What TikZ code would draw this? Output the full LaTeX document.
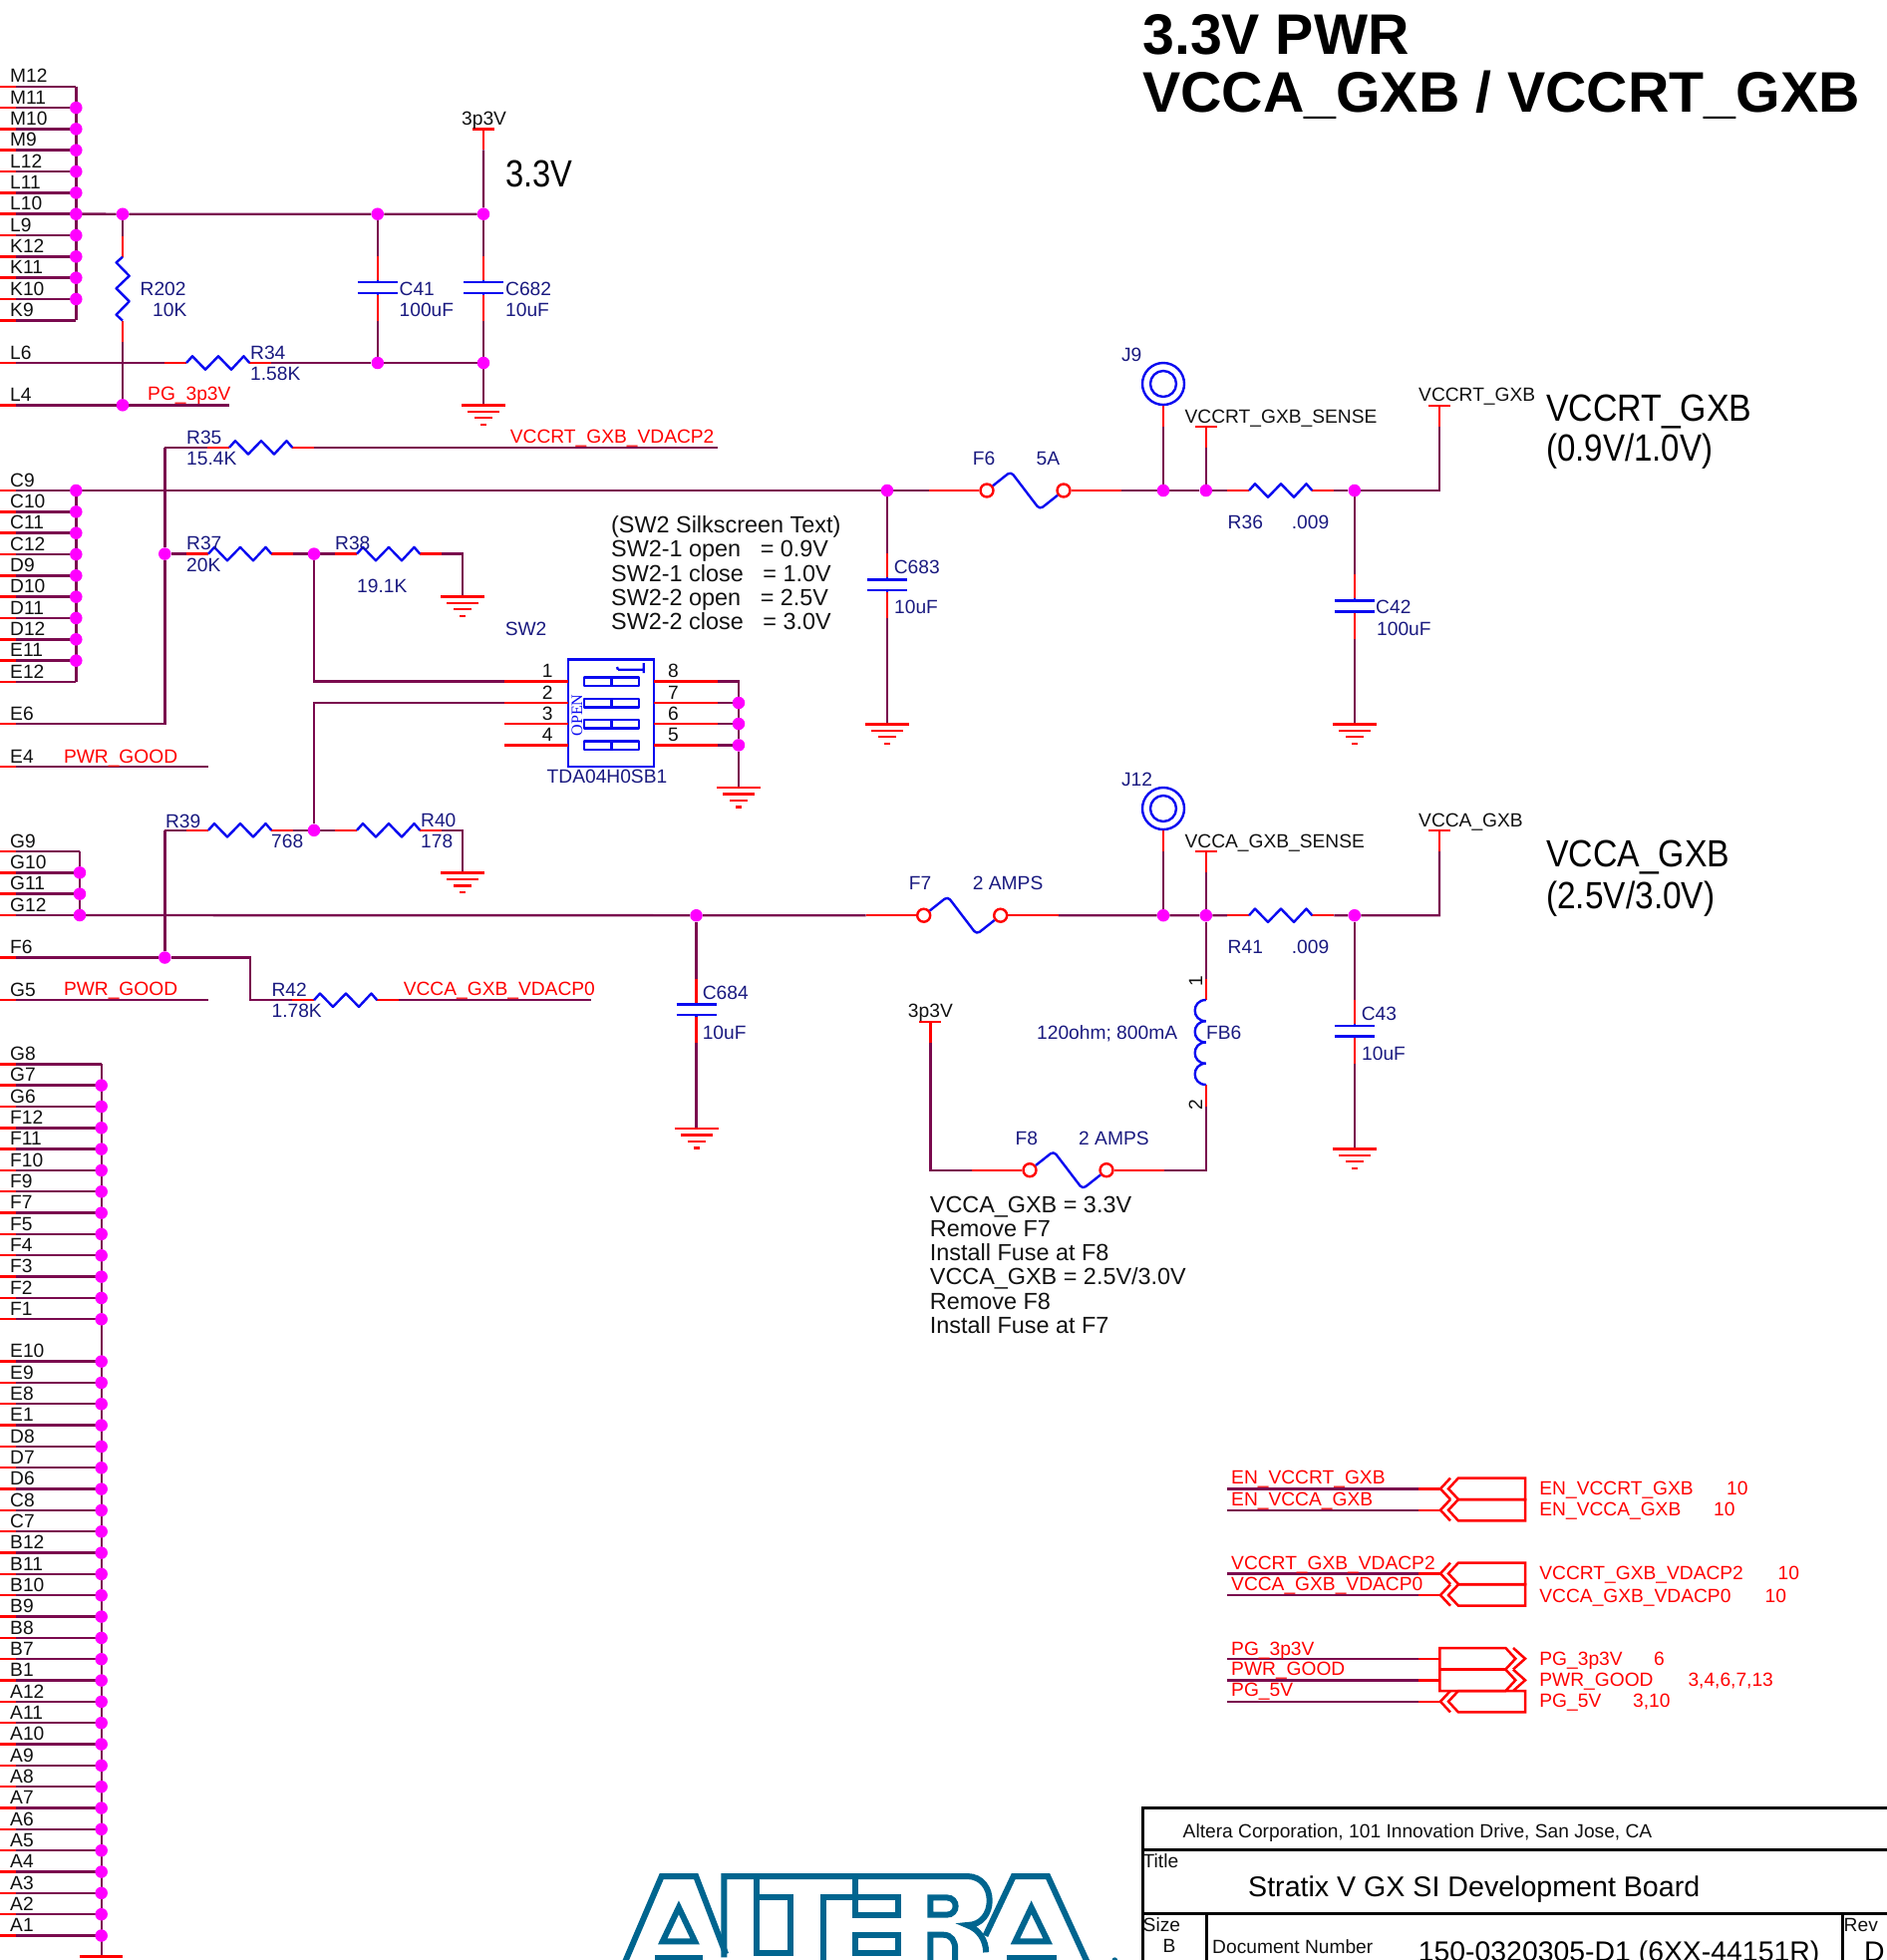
\documentclass[tikz,border=0pt]{standalone}
\usepackage{fontspec}
\setmainfont{Liberation Sans}
\newfontfamily\swfont{Liberation Serif}
\definecolor{wirec}{HTML}{7A0A4E}
\definecolor{redc}{HTML}{FF0000}
\definecolor{bluec}{HTML}{0A0AF0}
\definecolor{navyc}{HTML}{1A1A80}
\definecolor{magc}{HTML}{FF00FF}
\definecolor{inkc}{HTML}{111111}
\definecolor{tealc}{HTML}{00658F}
\pgfdeclarelayer{wires}
\pgfsetlayers{wires,main}
\tikzset{
  wire/.style={draw=wirec,line width=2.4pt},
  stub/.style={draw=redc,line width=2.4pt},
  comp/.style={draw=bluec,line width=2.4pt,line join=round},
  offp/.style={draw=redc,line width=2.5pt,line join=miter},
  dot/.style={circle,fill=magc,inner sep=0pt,minimum size=12.5pt},
  lab/.style={inner sep=0pt,anchor=base west,yshift=-6.9pt,text=navyc,font=\fontsize{19.2}{22}\selectfont},
  labc/.style={lab,anchor=base},
  net/.style={lab,text=inkc},
  netc/.style={net,anchor=base},
  redl/.style={lab,text=redc,yshift=.8pt},
  note/.style={inner sep=0pt,anchor=base west,yshift=-8.3pt,text=inkc,font=\fontsize{23.4}{26}\selectfont},
  bigl/.style={inner sep=0pt,anchor=base west,yshift=-13.6pt,text=black,font=\fontsize{38}{40}\selectfont},
  ttl/.style={inner sep=0pt,anchor=base west,yshift=-20.5pt,text=black,font=\fontsize{57.3}{60}\bfseries\selectfont},
  blk/.style={inner sep=0pt,anchor=base west,yshift=-10.2pt,text=black,font=\fontsize{28.4}{30}\selectfont},
  logo/.style={draw=tealc,line width=6pt,line join=miter},
  frm/.style={draw=black,line width=3pt},
}
\newcounter{tn}
\newcommand{\Tx}[4][lab]{\stepcounter{tn}\node[#1] (t\arabic{tn}) at (#2,#3) {#4};}
\newcommand{\WW}[1]{\begin{pgfonlayer}{wires}\draw[wire] #1;\end{pgfonlayer}}
% horizontal resistor: name, x of zigzag start, y
\newcommand{\RH}[3]{%
  \coordinate (#1-a) at (#2-22,#3);\coordinate (#1-b) at (#2+85.3,#3);
  \draw[stub] (#1-a) -- (#2,#3);\draw[stub] (#2+63.3,#3) -- (#1-b);
  \draw[comp] (#2,#3) -- ++(6,-6.7) -- ++(13,13.4) -- ++(13,-13.4) -- ++(13,13.4) -- ++(12.5,-13.4) -- ++(5.8,6.7);}
% capacitor: name, x, y of upper plate, y of lower plate
\newcommand{\CP}[4]{%
  \coordinate (#1-a) at (#2,#3-26);\coordinate (#1-b) at (#2,#4+28);
  \draw[stub] (#1-a) -- (#2,#3-2);\draw[stub] (#2,#4+2) -- (#1-b);
  \draw[comp] (#2-20,#3) -- (#2+20,#3) (#2-20,#4) -- (#2+20,#4) (#2,#3-2) -- (#2,#3) (#2,#4) -- (#2,#4+2);}
% ground: name, x, y
\newcommand{\GD}[3]{%
  \coordinate (#1) at (#2,#3);
  \draw[stub] (#2-22,#3) -- (#2+22,#3) (#2-16,#3+6.4) -- (#2+16,#3+6.4) (#2-9,#3+12.8) -- (#2+9,#3+12.8) (#2-3,#3+19.4) -- (#2+3,#3+19.4);}
% tee power symbol: name, x, y
\newcommand{\TE}[3]{%
  \coordinate (#1) at (#2,#3);\coordinate (#1-b) at (#2,#3+21);
  \draw[stub] (#2-11,#3) -- (#2+11,#3) (#1) -- (#1-b);}
% fuse: name, x of left circle, y
\newcommand{\FS}[3]{%
  \coordinate (#1-a) at (#2-58,#3);\coordinate (#1-b) at (#2+135,#3);
  \node[circle,draw=redc,line width=2.4pt,inner sep=0pt,minimum size=13pt] (#1-l) at (#2,#3) {};
  \node[circle,draw=redc,line width=2.4pt,inner sep=0pt,minimum size=13pt] (#1-r) at (#2+77,#3) {};
  \draw[stub] (#1-a) -- (#1-l);\draw[stub] (#1-r) -- (#1-b);
  \draw[comp,rounded corners=4pt] (#1-l) -- (#2+24,#3-19) -- (#2+53,#3+19) -- (#1-r);}
% test point: name, x, y
\newcommand{\TP}[3]{%
  \node[circle,draw=bluec,line width=2.4pt,inner sep=0pt,minimum size=42pt] (#1-o) at (#2,#3) {};
  \node[circle,draw=bluec,line width=2.4pt,inner sep=0pt,minimum size=26pt] (#1-i) at (#2,#3) {};
  \coordinate (#1-b) at (#2,#3+42.7);
  \draw[stub] (#1-o) -- (#1-b);}
% one pin at the left edge: name, y, label
\newcommand{\PL}[3]{%
  \coordinate (#1-l) at (0,#2);\coordinate (#1) at (16,#2);
  \draw[stub] (#1-l) -- (#1);\Tx[net]{10}{#2-10.7}{#3}}
% bus of left edge pins: name,x,y0,labels,first dot,last dot,last index
\newcommand{\BusL}[7]{%
  \foreach \lb [count=\i from 0] in {#4}{%
    \pgfmathsetmacro\yy{#3+21.33*\i}
    \coordinate (#1-\i) at (#2,\yy);
    \PL{#1-\i-s}{\yy}{\lb}
    \WW{(#1-\i-s) -- (#1-\i)}
    \ifnum\i<#5\else\ifnum\i>#6\else\node[dot] (#1-\i-d) at (#1-\i) {};\fi\fi
  }%
  \WW{(#1-0) -- (#1-#7)}}
% off-page connectors: name, y
\newcommand{\OffL}[2]{%
  \coordinate (#1-w) at (1231,#2);\coordinate (#1-s) at (1423,#2);
  \draw[stub] (#1-s) -- (1445,#2);\WW{(#1-w) -- (#1-s)}
  \draw[offp] (1530,#2-10.7) -- (1463,#2-10.7) -- (1453,#2) -- (1463,#2+10.7) -- (1530,#2+10.7) -- cycle;
  \draw[offp] (1455,#2-10.7) -- (1445,#2) -- (1455,#2+10.7);}
\newcommand{\OffR}[2]{%
  \coordinate (#1-w) at (1231,#2);\coordinate (#1-s) at (1423,#2);
  \draw[stub] (#1-s) -- (1444.4,#2);\WW{(#1-w) -- (#1-s)}
  \draw[offp] (1444.4,#2-10.7) -- (1510.4,#2-10.7) -- (1520.3,#2) -- (1510.4,#2+10.7) -- (1444.4,#2+10.7) -- cycle;
  \draw[offp] (1518,#2-10.7) -- (1530,#2) -- (1518,#2+10.7);}
\begin{document}
\begin{tikzpicture}[x=1pt,y=-1pt]
\path[use as bounding box] (0,0) rectangle (1893,1966);
\clip (0,0) rectangle (1893,1966);
% ---------- titles
\Tx[ttl]{1146}{33.5}{3.3V PWR}
\Tx[ttl]{1146}{92}{VCCA\_GXB / VCCRT\_GXB}
\Tx[bigl]{507}{174}{\scalebox{.86}[1]{3.3V}}
\Tx[bigl]{1551}{408.7}{\scalebox{.89}[1]{VCCRT\_GXB}}
\Tx[bigl]{1551}{449}{\scalebox{.87}[1]{(0.9V/1.0V)}}
\Tx[bigl]{1551}{856}{\scalebox{.89}[1]{VCCA\_GXB}}
\Tx[bigl]{1551}{897.6}{\scalebox{.88}[1]{(2.5V/3.0V)}}
% ---------- left edge busses
\BusL{busA}{76.3}{86.7}{M12,M11,M10,M9,L12,L11,L10,L9,K12,K11,K10,K9}{1}{10}{11}
\BusL{busC}{76.3}{492}{C9,C10,C11,C12,D9,D10,D11,D12,E11,E12}{0}{8}{9}
\BusL{busG}{80}{854}{G9,G10,G11,G12}{1}{3}{3}
\BusL{busH}{101.7}{1067.3}{G8,G7,G6,F12,F11,F10,F9,F7,F5,F4,F3,F2,F1}{1}{12}{12}
\BusL{busI}{101.7}{1365.6}{E10,E9,E8,E1,D8,D7,D6,C8,C7,B12,B11,B10,B9,B8,B7,B1,A12,A11,A10,A9,A8,A7,A6,A5,A4,A3,A2,A1}{0}{27}{27}
\WW{(busH-12) -- (busI-0)}
\coordinate (gndI) at (101.7,1962.3);
\draw[stub] (79.9,1962.3) -- (123.4,1962.3);
\WW{(busI-27) -- (gndI)}
\PL{pL6}{364}{L6}
\PL{pL4}{406.3}{L4}
\PL{pE6}{726}{E6}
\PL{pE4}{768.8}{E4}
\PL{pF6}{960.5}{F6}
\PL{pG5}{1003.2}{G5}
% ---------- junctions
\node[dot] (j202) at (123,214.7) {};
\node[dot] (jc41t) at (378.8,214.7) {};
\node[dot] (jc682t) at (485,214.7) {};
\node[dot] (jc41b) at (378.8,364) {};
\node[dot] (jc682b) at (485,364) {};
\node[dot] (jL4) at (123,406.3) {};
\node[dot] (j37) at (165.3,555.6) {};
\node[dot] (j3738) at (315,555.6) {};
\node[dot] (j3940) at (315,832.8) {};
\node[dot] (jF6) at (165.3,960.5) {};
\node[dot] (jc683) at (890,492) {};
\node[dot] (jJ9) at (1167,492) {};
\node[dot] (jSen) at (1209.8,492) {};
\node[dot] (jc42) at (1358.8,492) {};
\node[dot] (jc684) at (698.5,918.2) {};
\node[dot] (jJ12) at (1167,918.2) {};
\node[dot] (jSen2) at (1209.8,918.2) {};
\node[dot] (jc43) at (1358.8,918.2) {};
\node[dot] (jsw7) at (741,705) {};
\node[dot] (jsw6) at (741,726) {};
\node[dot] (jsw5) at (741,747.4) {};
% ---------- 3.3V part
\TE{t3p3}{485}{129.3}
\Tx[netc]{485.6}{119}{3p3V}
\coordinate (r202-a) at (123,236.7);
\coordinate (r202-b) at (123,343);
\draw[stub] (r202-a) -- (123,257.7);\draw[stub] (123,321.7) -- (r202-b);
\draw[comp] (123,257.7) -- (116.6,263.3) -- (129.7,276.7) -- (116.6,289.3) -- (129.7,302.3) -- (116.6,315.7) -- (123,321.7);
\RH{r34}{187}{364}
\CP{c41}{378.8}{283}{293.7}
\CP{c682}{485}{283}{293.7}
\GD{g1}{485}{406.3}
\coordinate (eL4) at (230,406.3);
\WW{(busA-6) -- (j202) -- (jc41t) -- (jc682t) -- (t3p3-b)}
\WW{(j202) -- (r202-a) (r202-b) -- (jL4)}
\WW{(pL6) -- (r34-a) (r34-b) -- (jc41b) -- (jc682b) -- (g1)}
\WW{(jc41t) -- (c41-a) (c41-b) -- (jc41b)}
\WW{(jc682t) -- (c682-a) (c682-b) -- (jc682b)}
\WW{(pL4) -- (jL4) -- (eL4)}
\Tx{140.5}{289.7}{R202}
\Tx{153}{310.7}{10K}
\Tx{400.5}{289.7}{C41}
\Tx{400.5}{310.7}{100uF}
\Tx{507}{289.7}{C682}
\Tx{507}{310.7}{10uF}
\Tx{251}{353.3}{R34}
\Tx{251}{374.5}{1.58K}
\Tx[redl]{148}{395.7}{PG\_3p3V}
% ---------- R35 to R38
\RH{r35}{230}{448.9}
\coordinate (c35) at (165.3,448.9);
\coordinate (e35) at (720,448.9);
\WW{(c35) -- (r35-a) (r35-b) -- (e35)}
\WW{(c35) -- (j37) (j37) |- (pE6)}
\Tx{187}{438.6}{R35}
\Tx{187}{459.5}{15.4K}
\Tx[redl]{511.7}{438.6}{VCCRT\_GXB\_VDACP2}
\RH{r37}{209}{555.6}
\RH{r38}{358}{555.6}
\GD{g2}{464}{598.3}
\coordinate (c38) at (464,555.6);
\WW{(j37) -- (r37-a) (r37-b) -- (j3738) -- (r38-a) (r38-b) -- (c38) -- (g2)}
\Tx{187}{544.6}{R37}
\Tx{187}{567}{20K}
\Tx{336}{544.6}{R38}
\Tx{358}{588}{19.1K}
% ---------- DIP switch
\node[draw=bluec,line width=2.4pt,inner sep=0pt,minimum width=86pt,minimum height=107.3pt] (sw2) at (613,715.3) {};
\foreach \yt in {679.3,700.7,722,743.3}{
  \draw[comp] (585.7,\yt) rectangle (641,\yt+8.6) (613.3,\yt) -- (613.3,\yt+8.6);
}
\draw[comp] (645.7,665) -- (645.7,675) (645.7,671.7) -- (620,671.7) (620,671.7) -- (619,669);
\node[inner sep=0pt,rotate=90,text=bluec,font=\fontsize{16}{18}\swfont\selectfont] (swopen) at (579,717.5) {OPEN};
\foreach \yp/\nl/\nr [count=\k] in {683.5/1/8,705/2/7,726/3/6,747.4/4/5}{
  \coordinate (swL\k) at (506,\yp);\coordinate (swR\k) at (720,\yp);
  \coordinate (swLe\k) at (570,\yp);\coordinate (swRe\k) at (656,\yp);
  \draw[stub] (swL\k) -- (swLe\k) (swRe\k) -- (swR\k);
  \Tx[netc]{549.3}{\yp-10.5}{\nl}
  \Tx[netc]{675.5}{\yp-10.5}{\nr}
}
\coordinate (csw1) at (315,705);
\coordinate (csw8) at (741,683.5);
\GD{g3}{741}{790}
\WW{(j3738) |- (swL1)}
\WW{(swL2) -- (csw1) -- (j3940)}
\WW{(swR1) -- (csw8) -- (jsw7) -- (jsw6) -- (jsw5) -- (g3)}
\WW{(swR2) -- (jsw7) (swR3) -- (jsw6) (swR4) -- (jsw5)}
\Tx{506.6}{630.4}{SW2}
\Tx[labc]{609}{779}{TDA04H0SB1}
\Tx[note]{613}{526}{(SW2 Silkscreen Text)}
\Tx[note]{613}{550.5}{SW2-1 open\ \ \ =~0.9V}
\Tx[note]{613}{575}{SW2-1 close\ \ \ =~1.0V}
\Tx[note]{613}{599.5}{SW2-2 open\ \ \ =~2.5V}
\Tx[note]{613}{623.6}{SW2-2 close\ \ \ =~3.0V}
% ---------- PWR_GOOD pins
\coordinate (eE4) at (209,768.8);
\WW{(pE4) -- (eE4)}
\Tx[redl]{63.8}{759}{PWR\_GOOD}
\coordinate (eG5) at (209,1003.2);
\WW{(pG5) -- (eG5)}
\Tx[redl]{63.8}{992.6}{PWR\_GOOD}
% ---------- R39, R40, R42
\RH{r39}{209}{832.8}
\RH{r40}{358}{832.8}
\GD{g4}{464}{875.5}
\coordinate (c39) at (165.3,832.8);
\coordinate (c40) at (464,832.8);
\WW{(c39) -- (r39-a) (r39-b) -- (j3940) -- (r40-a) (r40-b) -- (c40) -- (g4)}
\WW{(c39) -- (jF6)}
\Tx{165.8}{823.3}{R39}
\Tx{272}{844}{768}
\Tx{422}{822.5}{R40}
\Tx{422}{844}{178}
\RH{r42}{315}{1003.2}
\coordinate (c42a) at (251,960.5);
\coordinate (c42b) at (251,1003.2);
\coordinate (e42) at (593,1003.2);
\WW{(pF6) -- (jF6) -- (c42a) -- (c42b) -- (r42-a) (r42-b) -- (e42)}
\Tx{272.4}{992.6}{R42}
\Tx{272.4}{1014}{1.78K}
\Tx[redl]{404.6}{992.6}{VCCA\_GXB\_VDACP0}
% ---------- VCCRT rail
\FS{f6}{990}{492}
\TP{j9}{1167}{385}
\TE{tSen}{1209.8}{427.7}
\TE{tRT}{1444}{406.7}
\RH{r36}{1253}{492}
\CP{c683}{890}{581.3}{592}
\CP{c42}{1358.8}{602.3}{613.3}
\GD{g5}{890}{726.3}
\GD{g6}{1358.8}{726.3}
\coordinate (cRT) at (1444,492);
\WW{(busC-0) -- (jc683) -- (f6-a) (f6-b) -- (jJ9) -- (jSen) -- (r36-a) (r36-b) -- (jc42) -- (cRT) -- (tRT-b)}
\WW{(j9-b) -- (jJ9) (tSen-b) -- (jSen)}
\WW{(jc683) -- (c683-a) (c683-b) -- (g5)}
\WW{(jc42) -- (c42-a) (c42-b) -- (g6)}
\Tx{1124.8}{355.7}{J9}
\Tx[net]{1188.4}{417.7}{VCCRT\_GXB\_SENSE}
\Tx[net]{1423}{395.7}{VCCRT\_GXB}
\Tx{975.7}{459.3}{F6}
\Tx{1039.4}{459.3}{5A}
\Tx{1231.5}{523.7}{R36}
\Tx{1295.6}{523.7}{.009}
\Tx{896.6}{568.7}{C683}
\Tx{897}{608.7}{10uF}
\Tx{1380}{608.3}{C42}
\Tx{1381}{630.7}{100uF}
% ---------- VCCA rail
\FS{f7}{926.7}{918.2}
\TP{j12}{1167}{811}
\TE{tSen2}{1209.8}{854}
\TE{tA}{1444}{832.7}
\RH{r41}{1253}{918.2}
\CP{c684}{698.5}{1007.6}{1018}
\CP{c43}{1358.8}{1028.7}{1039.3}
\GD{g7}{698.5}{1132}
\GD{g8}{1358.8}{1152.3}
\coordinate (cA) at (1444,918.2);
\WW{(busG-3) -- (jc684) -- (f7-a) (f7-b) -- (jJ12) -- (jSen2) -- (r41-a) (r41-b) -- (jc43) -- (cA) -- (tA-b)}
\WW{(j12-b) -- (jJ12) (tSen2-b) -- (jSen2)}
\WW{(jc684) -- (c684-a) (c684-b) -- (g7)}
\WW{(jc43) -- (c43-a) (c43-b) -- (g8)}
\Tx{704.6}{995.5}{C684}
\Tx{704.6}{1035.5}{10uF}
\Tx{1124.8}{781.5}{J12}
\Tx[net]{1188.4}{843.3}{VCCA\_GXB\_SENSE}
\Tx[net]{1423}{822.7}{VCCA\_GXB}
\Tx{911.6}{885.3}{F7}
\Tx{975.7}{885.3}{2 AMPS}
\Tx{1231.5}{949.7}{R41}
\Tx{1295.6}{949.7}{.009}
\Tx{1365.6}{1016.7}{C43}
\Tx{1366}{1056.7}{10uF}
% ---------- ferrite bead and F8
\coordinate (fb-a) at (1209.8,981.7);
\coordinate (fb-b) at (1209.8,1110);
\draw[stub] (fb-a) -- (1209.8,1003);\draw[stub] (1209.8,1088) -- (fb-b);
\foreach \yc in {1003,1024.25,1045.5,1066.75}{
  \draw[comp] (1209.8,\yc) .. controls (1195,\yc) and (1195,\yc+21.25) .. (1209.8,\yc+21.25);
}
\node[inner sep=0pt,rotate=90,text=inkc,font=\fontsize{19.2}{22}\selectfont] (fbn1) at (1199.5,984) {1};
\node[inner sep=0pt,rotate=90,text=inkc,font=\fontsize{19.2}{22}\selectfont] (fbn2) at (1199.5,1108) {2};
\FS{f8}{1033}{1173.7}
\TE{t3p3b}{933.4}{1025}
\coordinate (cF8a) at (933.4,1173.7);
\coordinate (cF8b) at (1209.8,1173.7);
\WW{(jSen2) -- (fb-a) (fb-b) -- (cF8b) -- (f8-b) (f8-a) -- (cF8a) -- (t3p3b-b)}
\Tx{1040}{1035.7}{120ohm; 800mA}
\Tx{1210}{1035.7}{FB6}
\Tx[netc]{933.4}{1014}{3p3V}
\Tx{1018.4}{1142}{F8}
\Tx{1082}{1142}{2 AMPS}
\Tx[note]{932.7}{1208}{VCCA\_GXB = 3.3V}
\Tx[note]{932.7}{1232}{Remove F7}
\Tx[note]{932.7}{1256}{Install Fuse at F8}
\Tx[note]{932.7}{1280}{VCCA\_GXB = 2.5V/3.0V}
\Tx[note]{932.7}{1305}{Remove F8}
\Tx[note]{932.7}{1329}{Install Fuse at F7}
% ---------- off-page connectors
\OffL{o1}{1493.3}
\OffL{o2}{1514.7}
\OffL{o3}{1578.3}
\OffL{o4}{1600}
\OffR{o5}{1663.7}
\OffR{o6}{1685.3}
\OffL{o7}{1706.7}
\Tx[redl]{1235}{1482.7}{EN\_VCCRT\_GXB}
\Tx[redl]{1235}{1504.3}{EN\_VCCA\_GXB}
\Tx[redl]{1235}{1568.3}{VCCRT\_GXB\_VDACP2}
\Tx[redl]{1235}{1589.3}{VCCA\_GXB\_VDACP0}
\Tx[redl]{1235}{1654}{PG\_3p3V}
\Tx[redl]{1235}{1674.7}{PWR\_GOOD}
\Tx[redl]{1235}{1695.7}{PG\_5V}
\Tx[redl]{1544.2}{1493.3}{EN\_VCCRT\_GXB}
\Tx[redl]{1732}{1493.3}{10}
\Tx[redl]{1544.2}{1514.7}{EN\_VCCA\_GXB}
\Tx[redl]{1719}{1514.7}{10}
\Tx[redl]{1544.2}{1578.3}{VCCRT\_GXB\_VDACP2}
\Tx[redl]{1783.4}{1578.3}{10}
\Tx[redl]{1544.2}{1601}{VCCA\_GXB\_VDACP0}
\Tx[redl]{1770.4}{1601}{10}
\Tx[redl]{1544.2}{1664}{PG\_3p3V}
\Tx[redl]{1659}{1664}{6}
\Tx[redl]{1544.2}{1685.3}{PWR\_GOOD}
\Tx[redl]{1693.3}{1685.3}{3,4,6,7,13}
\Tx[redl]{1544.2}{1706.7}{PG\_5V}
\Tx[redl]{1638}{1706.7}{3,10}
% ---------- title block
\draw[frm] (1146,1975) -- (1146,1813.3) -- (1900,1813.3);
\draw[frm] (1146,1855.7) -- (1900,1855.7);
\draw[frm] (1146,1919) -- (1900,1919);
\draw[frm] (1210,1919) -- (1210,1975);
\draw[frm] (1848.4,1919) -- (1848.4,1975);
\Tx[net]{1186.5}{1836.7}{Altera Corporation, 101 Innovation Drive, San Jose, CA}
\Tx[net]{1146.5}{1867}{Title}
\Tx[blk]{1252}{1892.7}{\fontsize{28.6}{30}\selectfont Stratix V GX SI Development Board}
\Tx[net]{1146.5}{1930.7}{Size}
\Tx[netc]{1173}{1952}{B}
\Tx[net]{1216}{1952.3}{Document Number}
\Tx[blk]{1422.6}{1957.5}{150-0320305-D1 (6XX-44151R)}
\Tx[net]{1849.5}{1931}{Rev}
\Tx[blk]{1870}{1957}{D}
% ---------- logo
\begin{scope}[shift={(600,1860)},x=0.3444pt,y=-0.3333pt]
\draw[logo] (78,325) -- (185,66) -- (285,66) -- (372,300);
\draw[logo] (367,310) -- (367,66) -- (1075,66) .. controls (1162,66) and (1162,213) .. (1075,213) .. controls (1110,225) and (1130,260) .. (1130,295);
\draw[logo] (1128,245) -- (1210,66) -- (1310,66) -- (1425,325);
\draw[logo] (235,160) -- (188,262) -- (282,262) -- cycle;
\draw[logo] (165,311) -- (305,311);
\draw[logo] (462,66) -- (462,298) -- (560,298) -- (560,130) -- (462,130);
\draw[logo] (655,325) -- (655,130) -- (875,130) -- (875,182) -- (750,182) -- (750,66);
\draw[logo] (750,242) -- (875,242) -- (875,298) -- (750,298) -- cycle;
\draw[logo] (968,182) -- (968,130) -- (1015,130) .. controls (1050,130) and (1050,182) .. (1015,182) -- cycle;
\draw[logo] (968,325) -- (968,242) -- (1005,242) .. controls (1030,242) and (1040,262) .. (1040,285) -- (1040,325);
\draw[logo] (1262,160) -- (1215,262) -- (1310,262) -- cycle;
\draw[logo] (1190,311) -- (1335,311);
\fill[tealc] (1505,318) circle (8);
\end{scope}
\end{tikzpicture}
\end{document}
